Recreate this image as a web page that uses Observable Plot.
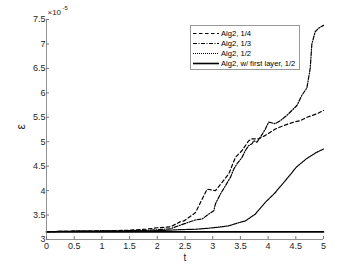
<!DOCTYPE html>
<html><head><meta charset="utf-8">
<script src="https://cdn.jsdelivr.net/npm/d3@7"></script>
<script src="https://cdn.jsdelivr.net/npm/@observablehq/plot@0.6"></script>
<style>
html,body{margin:0;padding:0;background:#fff;}
#wrap{position:relative;width:357px;height:268px;font-family:"Liberation Sans",Arial,sans-serif;}
#legend{position:absolute;left:190px;top:25px;width:110px;height:45px;border:1px solid #999;background:#fff;box-sizing:border-box;}
#legend svg{position:absolute;left:0;top:0;}
</style></head>
<body><div id="wrap"></div>
<script>
const seriesNames = ["Alg2, 1/4", "Alg2, 1/3", "Alg2, 1/2", "Alg2, w/ first layer, 1/2"];
const t14 = [0, 0.5, 1, 1.5, 1.8, 2.0, 2.24, 2.41, 2.48, 2.69, 2.81, 2.90, 3.05, 3.17, 3.29, 3.41, 3.53, 3.65, 3.71, 3.83, 3.95, 4.13, 4.28, 4.46, 4.58, 4.70, 4.88, 5.0];
const v14 = [3.16, 3.17, 3.175, 3.19, 3.21, 3.24, 3.26, 3.36, 3.38, 3.55, 3.83, 4.03, 4.00, 4.17, 4.34, 4.68, 4.82, 5.02, 5.06, 5.06, 5.13, 5.26, 5.33, 5.40, 5.43, 5.50, 5.57, 5.64];
const t13 = [0, 0.5, 1, 1.5, 1.87, 2.0, 2.24, 2.48, 2.69, 2.81, 2.93, 3.02, 3.05, 3.14, 3.23, 3.32, 3.38, 3.44, 3.53, 3.59, 3.65, 3.71, 3.74, 3.80, 3.86, 3.95, 4.01, 4.13, 4.22, 4.34, 4.52, 4.61, 4.70, 4.76, 4.79, 4.85, 4.91, 5.0];
const v13 = [3.16, 3.17, 3.175, 3.18, 3.19, 3.20, 3.22, 3.32, 3.40, 3.42, 3.52, 3.59, 3.73, 3.93, 4.10, 4.27, 4.44, 4.55, 4.68, 4.82, 4.92, 4.96, 5.02, 4.99, 5.09, 5.26, 5.40, 5.37, 5.43, 5.54, 5.74, 5.95, 6.10, 6.50, 7.0, 7.25, 7.32, 7.38];
const t12 = [0, 0.5, 1, 1.5, 2.0, 2.38, 2.69, 2.92, 3.16, 3.29, 3.43, 3.59, 3.77, 3.95, 4.13, 4.18, 4.36, 4.51, 4.69, 4.87, 5.0];
const v12 = [3.16, 3.17, 3.17, 3.175, 3.18, 3.20, 3.21, 3.23, 3.26, 3.28, 3.33, 3.38, 3.52, 3.76, 3.96, 4.03, 4.27, 4.48, 4.65, 4.78, 4.85];
const tFirst = [0, 5];
const vFirst = [3.155, 3.155];
const xTicks = [0, 0.5, 1, 1.5, 2, 2.5, 3, 3.5, 4, 4.5, 5];
const yTicks = [3, 3.5, 4, 4.5, 5, 5.5, 6, 6.5, 7, 7.5];

const dashes = ["3.5,2.5", "4,1.5,1,1.5", "1,1", null];
const widths = [1.2, 1.2, 1.2, 1.6];
const mk = (ts, vs) => ts.map((t, i) => ({t, v: vs[i]}));
const sets = [mk(t14, v14), mk(t13, v13), mk(t12, v12), mk(tFirst, vFirst)];
const gray = "#262626";

const chart = Plot.plot({
  width: 357, height: 268,
  marginLeft: 46, marginRight: 34, marginTop: 19, marginBottom: 29,
  style: {fontFamily: "Liberation Sans, Arial, sans-serif", fontSize: "9px", color: gray, background: "#fff"},
  x: {domain: [0, 5]},
  y: {domain: [3, 7.5]},
  marks: [
    ...sets.map((d, i) => Plot.line(d, {x: "t", y: "v", stroke: "#000", strokeWidth: widths[i], strokeDasharray: dashes[i]})),
    Plot.axisX({ticks: xTicks, tickSize: -3, tickPadding: 6, tickFormat: d => String(d), label: null, stroke: "#777"}),
    Plot.axisY({ticks: yTicks, tickSize: -3, tickPadding: 4, tickFormat: d => String(d), label: null, stroke: "#777"}),
    Plot.text(["t"], {frameAnchor: "bottom", dy: 14, text: d => d, fontSize: 10, fill: gray, lineAnchor: "top"}),
    Plot.text(["ε"], {frameAnchor: "left", dx: -25, text: d => d, fontSize: 12, fill: gray, rotate: -90}),
    Plot.ruleX([0], {stroke: "#777", strokeWidth: 0.8}),
    Plot.ruleY([3], {stroke: "#777", strokeWidth: 0.8}),
    Plot.text(["×10"], {frameAnchor: "top-left", dx: 1, dy: -10, text: d => d, textAnchor: "start", fontSize: 8, fill: gray}),
    Plot.text(["-5"], {frameAnchor: "top-left", dx: 16, dy: -14, text: d => d, textAnchor: "start", fontSize: 6, fill: gray})
  ]
});
const wrap = document.getElementById("wrap");
wrap.appendChild(chart);

const leg = document.createElement("div");
leg.id = "legend";
const ns = "http://www.w3.org/2000/svg";
const svg = document.createElementNS(ns, "svg");
svg.setAttribute("width", 110); svg.setAttribute("height", 45);
seriesNames.forEach((name, i) => {
  const y = 7.5 + i * 10;
  const l = document.createElementNS(ns, "line");
  l.setAttribute("x1", 2); l.setAttribute("x2", 28); l.setAttribute("y1", y); l.setAttribute("y2", y);
  l.setAttribute("stroke", "#000"); l.setAttribute("stroke-width", widths[i]);
  if (dashes[i]) l.setAttribute("stroke-dasharray", dashes[i]);
  svg.appendChild(l);
  const tx = document.createElementNS(ns, "text");
  tx.setAttribute("x", 30); tx.setAttribute("y", y + 2.8);
  tx.setAttribute("font-size", "7.6"); tx.setAttribute("fill", "#000");
  tx.setAttribute("font-family", "Liberation Sans, Arial, sans-serif");
  tx.textContent = name;
  svg.appendChild(tx);
});
leg.appendChild(svg);
wrap.appendChild(leg);
</script></body></html>
